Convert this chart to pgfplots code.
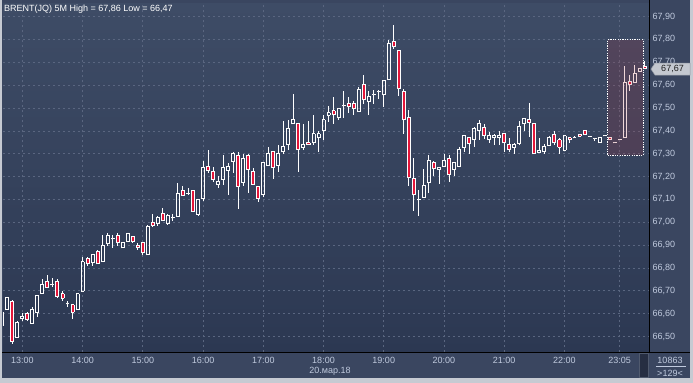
\documentclass[border=0pt]{standalone}
\usepackage{pgfplots}
\pgfplotsset{compat=1.18}
\usepackage{pgfplotstable}
\usepackage{fontspec}
\setmainfont{Liberation Sans}
\definecolor{framec}{RGB}{198,202,210}
\definecolor{panel}{RGB}{58,70,96}
\definecolor{bgtop}{RGB}{62,76,102}
\definecolor{bgbot}{RGB}{44,56,82}
\definecolor{gridc}{RGB}{90,102,128}
\definecolor{candred}{RGB}{228,22,58}
\definecolor{tickc}{RGB}{192,202,222}
\definecolor{boxc}{RGB}{170,50,60}
\newcommand{\tf}{\fontsize{9bp}{10bp}\selectfont}
\pgfplotsset{eb/.style={only marks, mark=*, mark size=0pt, mark options={draw=none, fill=none}}}

\pgfplotstableread{
i O H L C
0 66.550 66.620 66.540 66.606
1 66.617 66.675 66.617 66.669
2 66.655 66.660 66.468 66.478
3 66.497 66.570 66.497 66.560
4 66.578 66.602 66.567 66.589
5 66.600 66.608 66.567 66.576
6 66.558 66.631 66.555 66.617
7 66.606 66.680 66.585 66.678
8 66.687 66.750 66.687 66.726
9 66.741 66.770 66.714 66.716
10 66.726 66.757 66.716 66.726
11 66.741 66.750 66.668 66.675
12 66.687 66.698 66.655 66.668
13 66.643 66.655 66.631 66.643
14 66.639 66.639 66.575 66.606
15 66.617 66.687 66.617 66.687
16 66.698 66.850 66.698 66.828
17 66.840 66.850 66.808 66.818
18 66.825 66.857 66.808 66.857
19 66.871 66.880 66.818 66.818
20 66.828 66.942 66.828 66.897
21 66.908 66.952 66.894 66.942
22 66.927 66.942 66.888 66.927
23 66.942 66.952 66.895 66.910
24 66.888 66.910 66.888 66.910
25 66.917 66.949 66.917 66.949
26 66.939 66.939 66.908 66.917
27 66.898 66.908 66.879 66.888
28 66.910 66.910 66.857 66.869
29 66.857 66.990 66.857 66.981
30 66.999 67.036 66.978 66.987
31 66.996 67.028 66.985 67.020
32 67.038 67.061 67.004 67.009
33 66.996 67.036 66.987 67.028
34 67.019 67.036 67.004 67.019
35 67.026 67.171 67.026 67.128
36 67.139 67.160 67.118 67.118
37 67.128 67.149 67.120 67.128
38 67.139 67.139 67.048 67.048
39 67.036 67.099 67.026 67.099
40 67.106 67.270 67.095 67.238
41 67.246 67.318 67.217 67.226
42 67.222 67.241 67.175 67.188
43 67.166 67.204 67.149 67.178
44 67.188 67.292 67.165 67.238
45 67.226 67.261 67.117 67.246
46 67.267 67.309 67.217 67.299
47 67.290 67.309 67.058 67.158
48 67.175 67.299 67.158 67.277
49 67.290 67.299 67.128 67.229
50 67.220 67.238 67.166 67.166
51 67.158 67.158 67.088 67.106
52 67.120 67.260 67.110 67.260
53 67.247 67.331 67.247 67.299
54 67.308 67.310 67.188 67.238
55 67.247 67.340 67.219 67.299
56 67.308 67.441 67.299 67.330
57 67.339 67.448 67.317 67.410
58 67.430 67.559 67.430 67.448
59 67.430 67.430 67.219 67.317
60 67.327 67.430 67.317 67.339
61 67.347 67.441 67.339 67.339
62 67.347 67.470 67.339 67.387
63 67.369 67.401 67.306 67.387
64 67.400 67.470 67.358 67.449
65 67.467 67.510 67.438 67.479
66 67.487 67.550 67.430 67.470
67 67.457 67.499 67.448 67.499
68 67.509 67.572 67.457 67.509
69 67.518 67.550 67.477 67.508
70 67.519 67.532 67.470 67.499
71 67.486 67.591 67.486 67.579
72 67.603 67.642 67.518 67.538
73 67.530 67.572 67.467 67.549
74 67.559 67.579 67.518 67.559
75 67.572 67.579 67.537 67.572
76 67.557 67.620 67.506 67.620
77 67.626 67.799 67.626 67.780
78 67.791 67.861 67.758 67.769
79 67.751 67.751 67.554 67.587
80 67.572 67.584 67.387 67.448
81 67.457 67.489 67.158 67.197
82 67.190 67.280 67.048 67.120
83 67.098 67.139 67.027 67.098
84 67.107 67.231 67.107 67.161
85 67.175 67.292 67.127 67.269
86 67.260 67.270 67.204 67.236
87 67.229 67.239 67.168 67.239
88 67.245 67.299 67.245 67.269
89 67.277 67.292 67.175 67.207
90 67.231 67.260 67.204 67.260
91 67.245 67.331 67.245 67.317
92 67.328 67.378 67.307 67.378
93 67.369 67.369 67.299 67.346
94 67.360 67.416 67.331 67.409
95 67.400 67.449 67.358 67.430
96 67.416 67.430 67.365 67.378
97 67.360 67.394 67.346 67.378
98 67.369 67.387 67.336 67.378
99 67.369 67.397 67.336 67.378
100 67.387 67.387 67.307 67.347
101 67.339 67.369 67.307 67.317
102 67.328 67.347 67.299 67.339
103 67.346 67.441 67.339 67.419
104 67.430 67.455 67.400 67.455
105 67.448 67.521 67.375 67.437
106 67.430 67.430 67.299 67.299
107 67.306 67.369 67.306 67.316
108 67.308 67.343 67.299 67.331
109 67.338 67.379 67.338 67.369
110 67.386 67.401 67.338 67.347
111 67.360 67.369 67.299 67.328
112 67.316 67.378 67.316 67.378
113 67.369 67.369 67.346 67.360
114 67.369 67.379 67.369 67.369
115 67.386 67.386 67.376 67.376
116 67.400 67.400 67.386 67.386
117 67.376 67.376 67.376 67.376
118 67.367 67.367 67.357 67.367
119 67.347 67.369 67.347 67.369
120 67.378 67.378 67.378 67.378
121 67.369 67.369 67.360 67.360
122 67.347 67.347 67.347 67.347
123 67.360 67.360 67.360 67.360
124 67.369 67.682 67.369 67.610
125 67.617 67.642 67.576 67.601
126 67.610 67.688 67.610 67.649
127 67.659 67.671 67.659 67.671
128 67.681 67.707 67.671 67.671
}\candles

\begin{document}
\begin{tikzpicture}[font=\tf]
\fill[framec] (0bp,0bp) rectangle (693bp,382bp);
\fill[panel] (2bp,4bp) rectangle (690bp,382bp);
\begin{axis}[
  at={(3bp,30bp)}, anchor=south west,
  scale only axis, width=646bp, height=349bp,
  xmin=0.155, xmax=128.84, ymin=66.43, ymax=67.957,
  axis background/.style={shade, top color=bgtop, bottom color=bgbot},
  axis line style={draw=none},
  tick style={draw=none},
  major tick length=0pt,
  grid=major,
  grid style={gridc, dash pattern=on 2bp off 3bp, line width=0.6bp},
  xtick={4,16,28,40,52,64,76,88,100,112,123},
  xticklabels={13:00,14:00,15:00,16:00,17:00,18:00,19:00,20:00,21:00,22:00,23:05},
  xticklabel style={font=\tf, text=tickc, yshift=-1bp},
  ytick={66.5,66.6,66.7,66.8,66.9,67.0,67.1,67.2,67.3,67.4,67.5,67.6,67.7,67.8,67.9},
  yticklabel pos=right,
  yticklabel style={font=\tf, text=tickc, anchor=west, xshift=0bp,
    /pgf/number format/fixed, /pgf/number format/fixed zerofill,
    /pgf/number format/precision=2, /pgf/number format/use comma,
    /pgf/number format/assume math mode=true},
]
% lower wicks
\addplot[eb, error bars/.cd, y dir=minus, y explicit, error mark=none,
  error bar style={draw=white, line width=0.9bp}]
  table[x=i, y expr={min(\thisrow{O},\thisrow{C})},
        y error minus expr={min(\thisrow{O},\thisrow{C})-\thisrow{L}}] {\candles};
% upper wicks
\addplot[eb, error bars/.cd, y dir=plus, y explicit, error mark=none,
  error bar style={draw=white, line width=0.9bp}]
  table[x=i, y expr={max(\thisrow{O},\thisrow{C})},
        y error plus expr={\thisrow{H}-max(\thisrow{O},\thisrow{C})}] {\candles};
% red fill of falling candles
\addplot[eb, error bars/.cd, y dir=plus, y explicit, error mark=none,
  error bar style={draw=candred, line width=3.0bp}]
  table[x=i, y=C, y error plus expr={max(\thisrow{O}-\thisrow{C},0)}] {\candles};
% left edges
\addplot[eb, error bars/.cd, y dir=plus, y explicit, error mark=none,
  error bar style={draw=white, line width=0.9bp}]
  table[x expr={\thisrow{i}-0.3}, y expr={min(\thisrow{O},\thisrow{C})},
        y error plus expr={abs(\thisrow{C}-\thisrow{O})}] {\candles};
% right edges
\addplot[eb, error bars/.cd, y dir=plus, y explicit, error mark=none,
  error bar style={draw=white, line width=0.9bp}]
  table[x expr={\thisrow{i}+0.3}, y expr={min(\thisrow{O},\thisrow{C})},
        y error plus expr={abs(\thisrow{C}-\thisrow{O})}] {\candles};
% open edges
\addplot[eb, error bars/.cd, y dir=plus, y explicit, error mark=none,
  error bar style={draw=white, line width=3.9bp}]
  table[x=i, y expr={\thisrow{O}-0.002}, y error plus expr={0.004}] {\candles};
% close edges
\addplot[eb, error bars/.cd, y dir=plus, y explicit, error mark=none,
  error bar style={draw=white, line width=3.9bp}]
  table[x=i, y expr={\thisrow{C}-0.002}, y error plus expr={0.004}] {\candles};
% highlighted box
\addplot[fill=boxc, fill opacity=0.2, draw=white, dash pattern=on 1.2bp off 1.2bp, line width=0.8bp]
  coordinates {(120.6,67.292) (127.65,67.292) (127.65,67.798) (120.6,67.798) (120.6,67.292)};
\end{axis}
% separators
\draw[black, line width=1bp] (649bp,30bp) -- (649bp,382bp);
\draw[black, line width=1bp] (2bp,30bp) -- (690bp,30bp);
% title
\node[anchor=base west, inner sep=0pt, text=white] at (4bp,370.7bp) {BRENT(JQ) 5M High = 67,86 Low = 66,47};
% price label
\fill[fill={rgb,255:red,196;green,200;blue,208}, draw={rgb,255:red,150;green,155;blue,165}, line width=0.5bp]
  (651bp,313.4bp) -- (655bp,319.4bp) -- (690bp,319.4bp) -- (690bp,307.4bp) -- (655bp,307.4bp) -- cycle;
\node[inner sep=0pt, text={rgb,255:red,30;green,30;blue,30}] at (672.5bp,313.4bp) {67,67};
% date
\node[inner sep=0pt, text=tickc] at (330bp,11bp) {20.мар.18};
% bottom right info
\fill[fill={rgb,255:red,38;green,46;blue,66}, draw={rgb,255:red,80;green,90;blue,110}, line width=0.5bp]
  (639.5bp,5bp) rectangle (648.5bp,29bp);
\node[inner sep=0pt, text=tickc] at (670bp,22bp) {10863};
\draw[tickc, line width=0.5bp] (656bp,16bp) -- (686bp,16bp);
\node[inner sep=0pt, text=tickc] at (670bp,9bp) {>129<};
\end{tikzpicture}
\end{document}
